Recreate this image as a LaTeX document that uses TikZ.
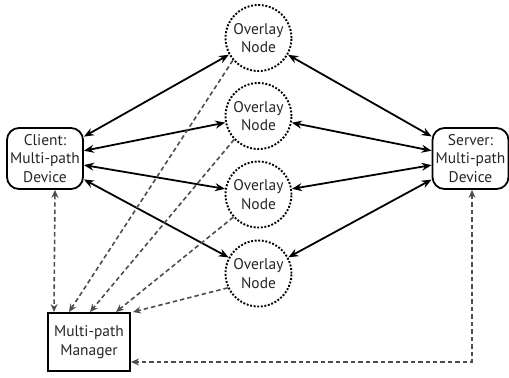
\documentclass[tikz,border=0pt]{standalone}
\usepackage{fontspec}
\setmainfont{PT Sans}
\usepackage{xcolor}
\usetikzlibrary{arrows.meta, positioning, calc}

\definecolor{ctrlgray}{HTML}{4D4D4D}
\definecolor{labelgray}{HTML}{262626}

\begin{document}
\begin{tikzpicture}[x=1bp, y=-1bp,
    every node/.style={align=center, font=\fontsize{15.5}{18.5}\selectfont, text=labelgray},
    overlay/.style={circle, draw, dash pattern=on 1.9pt off 1.7pt, line width=1.9pt, minimum size=66bp, inner sep=0pt},
    device/.style={rectangle, rounded corners=12bp, draw, line width=1.8pt, minimum width=76bp, minimum height=61bp, inner sep=1pt},
    manager/.style={rectangle, draw, line width=2pt, minimum width=82bp, minimum height=58bp, inner sep=1pt},
    link/.style={{Stealth[length=10pt,width=8pt]}-{Stealth[length=10pt,width=8pt]}, line width=1.8pt},
    ctrl/.style={-{Stealth[length=8pt,width=7pt]}, dash pattern=on 4.5pt off 3pt, ctrlgray, line width=1.6pt}]
    \useasboundingbox (0,0) rectangle (509,377);

    % overlay nodes
    \node[overlay] (ov1) at (258.5,38) {Overlay\\Node};
    \node[overlay] (ov2) at (258.5,116) {Overlay\\Node};
    \node[overlay] (ov3) at (258.5,194.5) {Overlay\\Node};
    \node[overlay] (ov4) at (258.5,273.5) {Overlay\\Node};

    % end devices and manager
    \node[device] (client) at (45,158.5) {Client:\\Multi-path\\Device};
    \node[device] (server) at (470.5,158.5) {Server:\\Multi-path\\Device};
    \node[manager] (mgr) at (89,342) {Multi-path\\Manager};

    % data paths
    \foreach \o in {ov1,ov2,ov3,ov4} {
        \draw[link] (client) -- (\o);
        \draw[link] (server) -- (\o);
    }

    % control paths
    \draw[ctrl] (ov1.221) -- ([xshift=22bp]mgr.north west);
    \draw[ctrl] (ov2.224) -- ([xshift=43bp]mgr.north west);
    \draw[ctrl] (ov3.222) -- ([xshift=69bp]mgr.north west);
    \draw[ctrl] (ov4.205) -- ([xshift=2bp]mgr.north east);
    \draw[ctrl, {Stealth[length=8pt,width=7pt]}-{Stealth[length=8pt,width=7pt]}]
        ([xshift=10bp]client.south) -- ([xshift=7bp]mgr.north west);
    \draw[ctrl, {Stealth[length=8pt,width=7pt]}-{Stealth[length=8pt,width=7pt]}]
        ([xshift=1.5bp]server.south) |- ([yshift=-20bp]mgr.east);
\end{tikzpicture}
\end{document}
